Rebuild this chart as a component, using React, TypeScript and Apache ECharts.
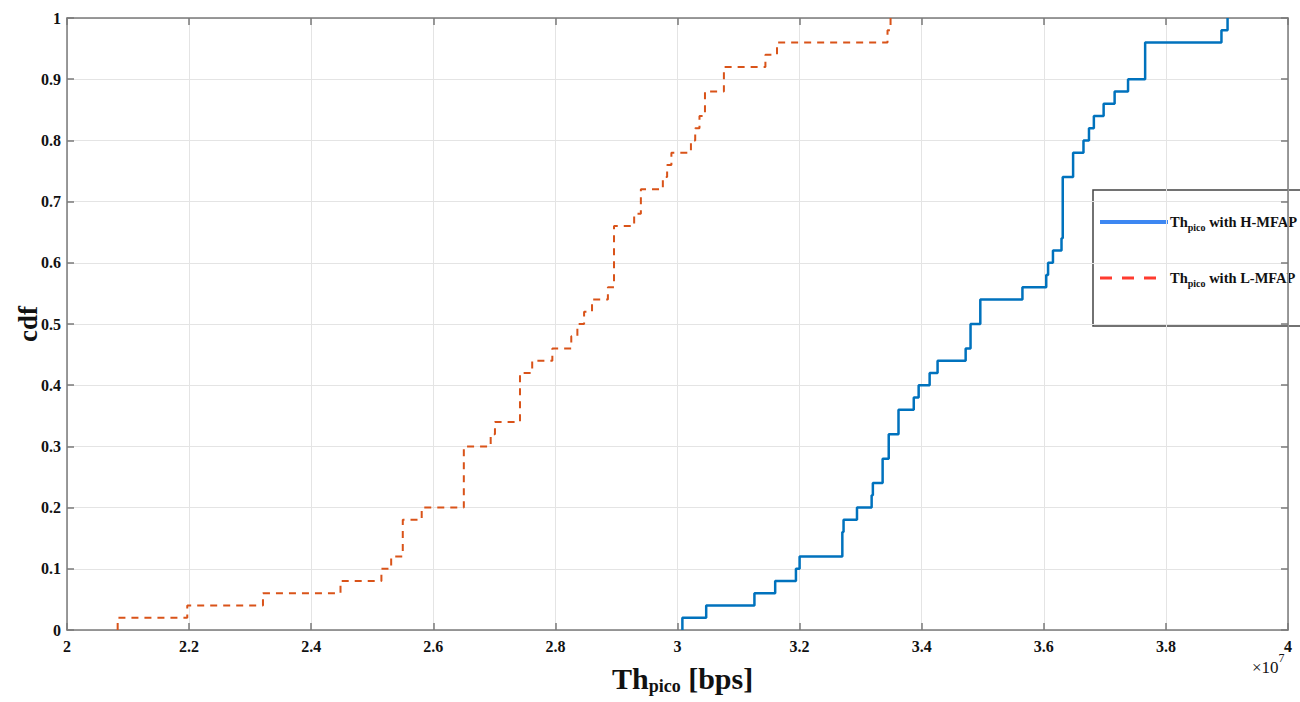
import React, { useEffect, useRef } from "react";
import * as echarts from "echarts";

// Throughput values in units of 1e7 bps
const X_MIN = 2;
const X_MAX = 4;
const X_INTERVAL = 0.2;
const Y_MIN = 0;
const Y_MAX = 1;
const Y_INTERVAL = 0.1;

// Th_pico with L-MFAP (ECDF jump points)
const redX = [2.083, 2.083, 2.197, 2.321, 2.448, 2.515, 2.531, 2.550, 2.581, 2.650, 2.694, 2.701, 2.742, 2.762, 2.795, 2.826, 2.836, 2.847, 2.860, 2.886, 2.896, 2.929, 2.940, 2.976, 2.983, 2.990, 3.022, 3.029, 3.036, 3.045, 3.076, 3.144, 3.163, 3.344, 3.349];
const redY = [0, 0.02, 0.04, 0.06, 0.08, 0.10, 0.12, 0.18, 0.20, 0.30, 0.32, 0.34, 0.42, 0.44, 0.46, 0.48, 0.50, 0.52, 0.54, 0.56, 0.66, 0.68, 0.72, 0.74, 0.76, 0.78, 0.80, 0.82, 0.84, 0.88, 0.92, 0.94, 0.96, 0.98, 1.00];

// Th_pico with H-MFAP (ECDF jump points)
const blueX = [3.008, 3.008, 3.047, 3.126, 3.160, 3.194, 3.200, 3.270, 3.272, 3.294, 3.318, 3.320, 3.336, 3.346, 3.362, 3.387, 3.395, 3.413, 3.426, 3.472, 3.480, 3.496, 3.565, 3.604, 3.607, 3.615, 3.629, 3.631, 3.648, 3.665, 3.674, 3.682, 3.698, 3.716, 3.738, 3.766, 3.891, 3.901];
const blueY = [0, 0.02, 0.04, 0.06, 0.08, 0.10, 0.12, 0.16, 0.18, 0.20, 0.22, 0.24, 0.28, 0.32, 0.36, 0.38, 0.40, 0.42, 0.44, 0.46, 0.50, 0.54, 0.56, 0.58, 0.60, 0.62, 0.64, 0.74, 0.78, 0.80, 0.82, 0.84, 0.86, 0.88, 0.90, 0.96, 0.98, 1.00];

const SERIES_NAMES = ["Th_pico with H-MFAP", "Th_pico with L-MFAP"];

const SERIF = "Liberation Serif";

function fmt(v: number): string {
  const r = Math.round(v * 10) / 10;
  return String(r);
}

export default function App() {
  const ref = useRef<HTMLDivElement>(null);
  useEffect(() => {
    if (!ref.current) return;
    const chart = echarts.init(ref.current, null, { renderer: "svg" });
    const axisColor = "#7a7a7a";
    const labelStyle = {
      color: "#111",
      fontFamily: SERIF,
      fontWeight: "bold" as const,
      fontSize: 16,
    };
    const legendRich = {
      b: { fontFamily: SERIF, fontWeight: "bold", fontSize: 14.5, lineHeight: 20, fill: "#111" },
      s: { fontFamily: SERIF, fontWeight: "bold", fontSize: 10, lineHeight: 9, verticalAlign: "bottom", fill: "#111" },
    };
    const option: any = {
      animation: false,
      backgroundColor: "#ffffff",
      grid: { left: 67, right: 12, top: 18, bottom: 72, containLabel: false },
      xAxis: [
        {
          type: "value",
          min: X_MIN,
          max: X_MAX,
          interval: X_INTERVAL,
          position: "bottom",
          axisLine: { show: true, onZero: false, lineStyle: { color: axisColor, width: 1.5 } },
          axisTick: { show: true, inside: true, length: 7, lineStyle: { color: axisColor, width: 1.5 } },
          axisLabel: { ...labelStyle, margin: 8, formatter: (v: number) => fmt(v) },
          splitLine: { show: true, lineStyle: { color: "#e4e4e4", width: 1 } },
        },
        {
          type: "value",
          min: X_MIN,
          max: X_MAX,
          interval: X_INTERVAL,
          position: "top",
          axisLine: { show: true, onZero: false, lineStyle: { color: axisColor, width: 1.5 } },
          axisTick: { show: true, inside: true, length: 7, lineStyle: { color: axisColor, width: 1.5 } },
          axisLabel: { show: false },
          splitLine: { show: false },
        },
      ],
      yAxis: [
        {
          type: "value",
          min: Y_MIN,
          max: Y_MAX,
          interval: Y_INTERVAL,
          position: "left",
          axisLine: { show: true, onZero: false, lineStyle: { color: axisColor, width: 1.5 } },
          axisTick: { show: true, inside: true, length: 7, lineStyle: { color: axisColor, width: 1.5 } },
          axisLabel: { ...labelStyle, margin: 6, formatter: (v: number) => fmt(v) },
          splitLine: { show: true, lineStyle: { color: "#e4e4e4", width: 1 } },
        },
        {
          type: "value",
          min: Y_MIN,
          max: Y_MAX,
          interval: Y_INTERVAL,
          position: "right",
          axisLine: { show: true, onZero: false, lineStyle: { color: axisColor, width: 1.5 } },
          axisTick: { show: true, inside: true, length: 7, lineStyle: { color: axisColor, width: 1.5 } },
          axisLabel: { show: false },
          splitLine: { show: false },
        },
      ],
      series: [
        {
          name: SERIES_NAMES[1],
          type: "line",
          step: "end",
          xAxisIndex: 0,
          yAxisIndex: 0,
          data: redX.map((x, i) => [x, redY[i]]),
          showSymbol: false,
          symbol: "none",
          lineStyle: { color: "#D95319", width: 2, type: [7, 6] },
          z: 3,
        },
        {
          name: SERIES_NAMES[0],
          type: "line",
          step: "end",
          xAxisIndex: 0,
          yAxisIndex: 0,
          data: blueX.map((x, i) => [x, blueY[i]]),
          showSymbol: false,
          symbol: "none",
          lineStyle: { color: "#0072BD", width: 2.5 },
          z: 3,
        },
      ],
      graphic: [
        {
          type: "text",
          left: 14,
          top: 306,
          rotation: Math.PI / 2,
          style: {
            text: "cdf",
            fill: "#111",
            font: `bold 27px ${SERIF}`,
          },
        },
        {
          type: "text",
          x: 612,
          y: 661,
          style: {
            text: "{b|Th}{s|pico}{b| [bps]}",
            fill: "#111",
            rich: {
              b: { fontFamily: SERIF, fontWeight: "bold", fontSize: 30, lineHeight: 34, fill: "#111" },
              s: { fontFamily: SERIF, fontWeight: "bold", fontSize: 18, lineHeight: 16, verticalAlign: "bottom", fill: "#111" },
            },
          },
        },
        {
          type: "text",
          x: 1252,
          y: 652,
          style: {
            text: "{n|×10}{p|7}",
            rich: {
              n: { fontFamily: SERIF, fontSize: 17, lineHeight: 24, verticalAlign: "bottom", fill: "#111" },
              p: { fontFamily: SERIF, fontSize: 12, lineHeight: 20, verticalAlign: "top", fill: "#111" },
            },
          },
        },
        {
          type: "group",
          z: 100,
          children: [
            {
              type: "rect",
              shape: { x: 1093, y: 190, width: 260, height: 136 },
              style: { fill: "#ffffff", stroke: "#444444", lineWidth: 1.5 },
            },
            {
              type: "line",
              shape: { x1: 1100, y1: 222, x2: 1168, y2: 222 },
              style: { stroke: "#3d87f2", lineWidth: 4 },
            },
            {
              type: "line",
              shape: { x1: 1100, y1: 278, x2: 1162, y2: 278 },
              style: { stroke: "#ff3b2f", lineWidth: 3, lineDash: [12, 10] },
            },
            {
              type: "text",
              x: 1170,
              y: 212,
              style: { text: "{b|Th}{s|pico}{b| with H-MFAP}", rich: legendRich },
            },
            {
              type: "text",
              x: 1170,
              y: 268,
              style: { text: "{b|Th}{s|pico}{b| with L-MFAP}", rich: legendRich },
            },
          ],
        },
      ],
    };
    chart.setOption(option);
    return () => chart.dispose();
  }, []);
  return (
    <div
      ref={ref}
      style={{ position: "fixed", left: 0, top: 0, width: 1300, height: 702, background: "#fff" }}
    />
  );
}
